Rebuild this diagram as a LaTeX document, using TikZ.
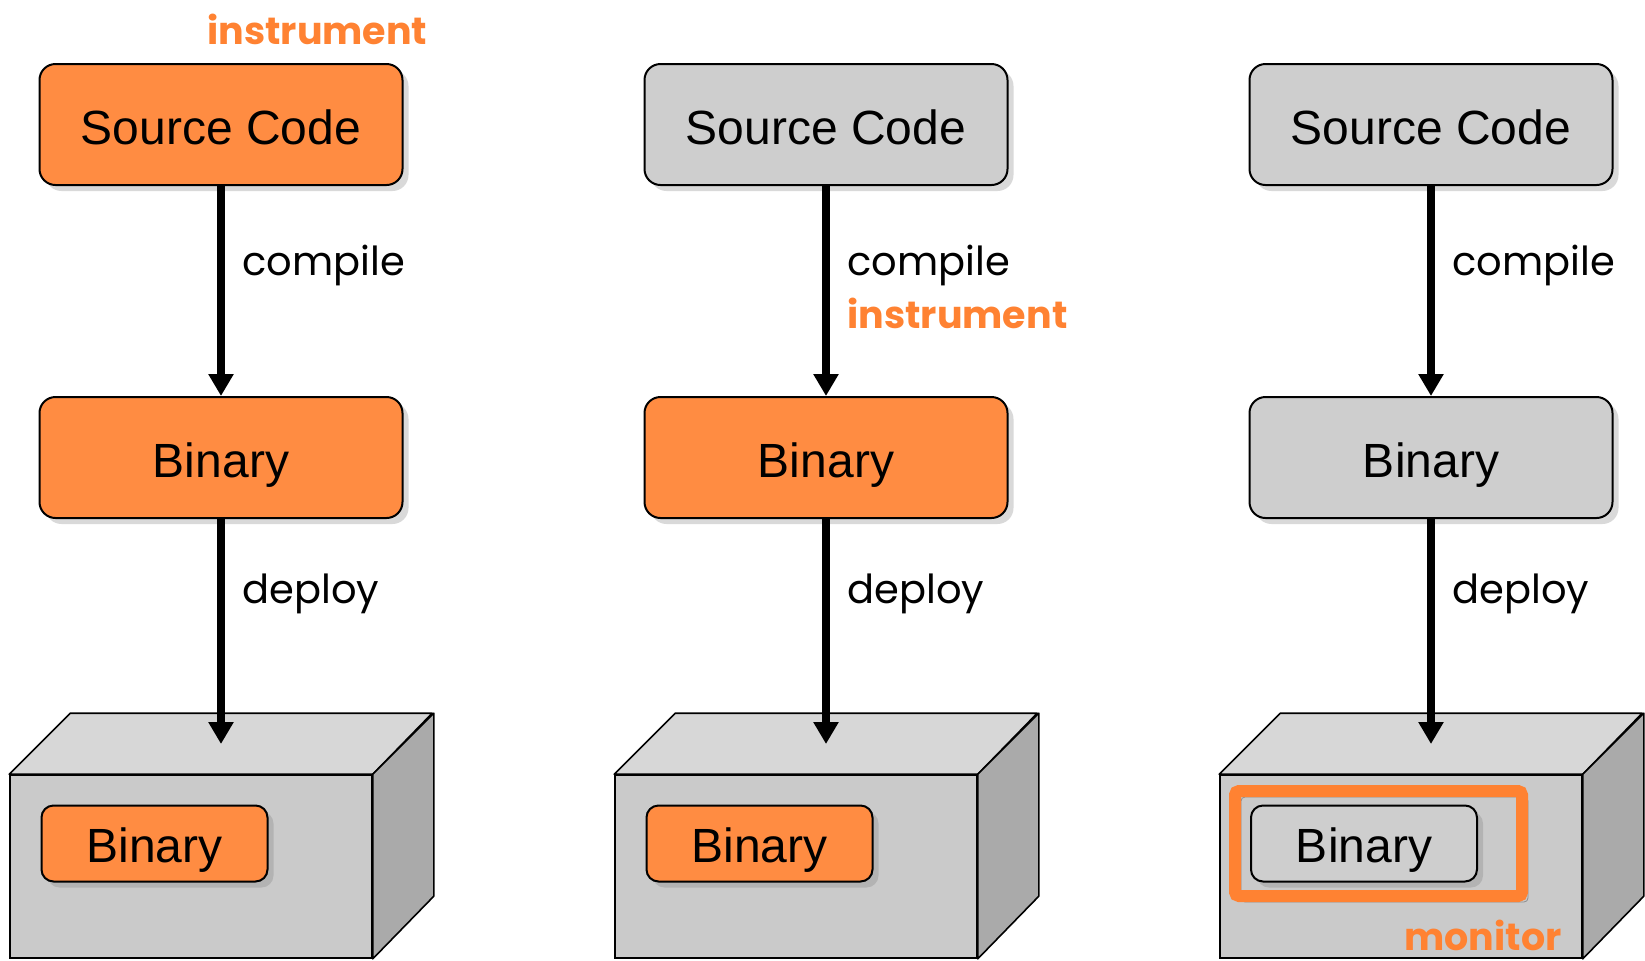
\documentclass[tikz,border=0pt]{standalone}
\usepackage{fontspec}
\setmainfont{Liberation Sans}
\newfontfamily\futura{Poppins}
\usepackage{tikz}
\usetikzlibrary{calc,arrows.meta,shapes,positioning,shadows}

\definecolor{binorange}{RGB}{255,140,66}
\definecolor{txtorange}{RGB}{255,130,50}
\definecolor{boxgray}{RGB}{206,206,206}
\definecolor{frontgray}{RGB}{202,202,202}
\definecolor{topgray}{RGB}{215,215,215}
\definecolor{sidegray}{RGB}{170,170,170}

\tikzset{
  blk/.style={draw=black, line width=1pt, rounded corners=8pt,
    minimum width=181.5pt, minimum height=60.5pt, inner sep=0pt,
    text height=19.5pt, text depth=0pt,
    font=\fontsize{24}{28}\selectfont,
    drop shadow={shadow xshift=3pt, shadow yshift=-3pt, opacity=0.3}},
  inblk/.style={blk, rounded corners=6pt, minimum width=113pt, minimum height=38pt,
    text height=18.5pt},
  hot/.style={fill=binorange},
  cold/.style={fill=boxgray},
  machine/.style={draw=black, line width=0.8pt, fill=frontgray, inner sep=0pt,
    minimum width=181pt, minimum height=91.5pt},
  face/.style={draw=black, line width=0.8pt, line join=round},
  step lbl/.style={font=\futura\fontsize{20}{24}\selectfont, anchor=base west, inner sep=0pt},
  hot lbl/.style={font=\futura\bfseries\fontsize{19}{23}\selectfont, text=txtorange,
    anchor=base west, inner sep=0pt, text depth=0pt},
  flow/.style={line width=4pt, -{Triangle[width=12pt,length=11pt]}}
}

\begin{document}
\begin{tikzpicture}[x=0.5pt, y=-0.5pt]
   \useasboundingbox (0,0) rectangle (1645,960);

   %column 0: instrument the source
   \node[blk,hot] (src0) at (221,124.5) {Source Code};
   \node[blk,hot] (bin0) at (221,457.5) {Binary};
   \node[machine] (box0) at (191,866.5) {};
   \draw[face,fill=topgray] (box0.north west) -- ++(61,-61) -- ++(362,0) -- (box0.north east) -- cycle;
   \draw[face,fill=sidegray] (box0.north east) -- ++(61,-61) -- ++(0,183) -- (box0.south east) -- cycle;
   \node[inblk,hot] (run0) at (154.5,843.5) {Binary};
   \coordinate (hit0) at (221,744);

   \node[hot lbl] (ins0) at (207,44) {instrument};
   \node[step lbl] (cmp0) at (242,275) {compile};
   \node[step lbl] (dep0) at (242,603) {deploy};

   %column 1: instrument while compiling
   \node[blk,cold] (src1) at (826,124.5) {Source Code};
   \node[blk,hot] (bin1) at (826,457.5) {Binary};
   \node[machine] (box1) at (796,866.5) {};
   \draw[face,fill=topgray] (box1.north west) -- ++(61,-61) -- ++(362,0) -- (box1.north east) -- cycle;
   \draw[face,fill=sidegray] (box1.north east) -- ++(61,-61) -- ++(0,183) -- (box1.south east) -- cycle;
   \node[inblk,hot] (run1) at (759.5,843.5) {Binary};
   \coordinate (hit1) at (826,744);

   \node[step lbl] (cmp1) at (847,275) {compile};
   \node[hot lbl] (ins1) at (847,328) {instrument};
   \node[step lbl] (dep1) at (847,603) {deploy};

   %column 2: monitor the running binary
   \node[blk,cold] (src2) at (1431,124.5) {Source Code};
   \node[blk,cold] (bin2) at (1431,457.5) {Binary};
   \node[machine] (box2) at (1401,866.5) {};
   \draw[face,fill=topgray] (box2.north west) -- ++(61,-61) -- ++(362,0) -- (box2.north east) -- cycle;
   \draw[face,fill=sidegray] (box2.north east) -- ++(61,-61) -- ++(0,183) -- (box2.south east) -- cycle;
   \draw[draw=txtorange, line width=6pt, rounded corners=2pt,
     drop shadow={shadow xshift=3pt, shadow yshift=-3pt, opacity=0.3, fill=none, draw=black}]
     (1235,791) rectangle (1522,896);
   \node[inblk,cold] (run2) at (1364,843.5) {Binary};
   \coordinate (hit2) at (1431,744);

   \node[step lbl] (cmp2) at (1452,275) {compile};
   \node[step lbl] (dep2) at (1452,603) {deploy};
   \node[hot lbl,anchor=base east] (mon2) at (1562,950) {monitor};

  \path[flow]
    (src0) edge (bin0)
    (bin0.south) edge (hit0)
    (src1) edge (bin1)
    (bin1.south) edge (hit1)
    (src2) edge (bin2)
    (bin2.south) edge (hit2);
\end{tikzpicture}
\end{document}
